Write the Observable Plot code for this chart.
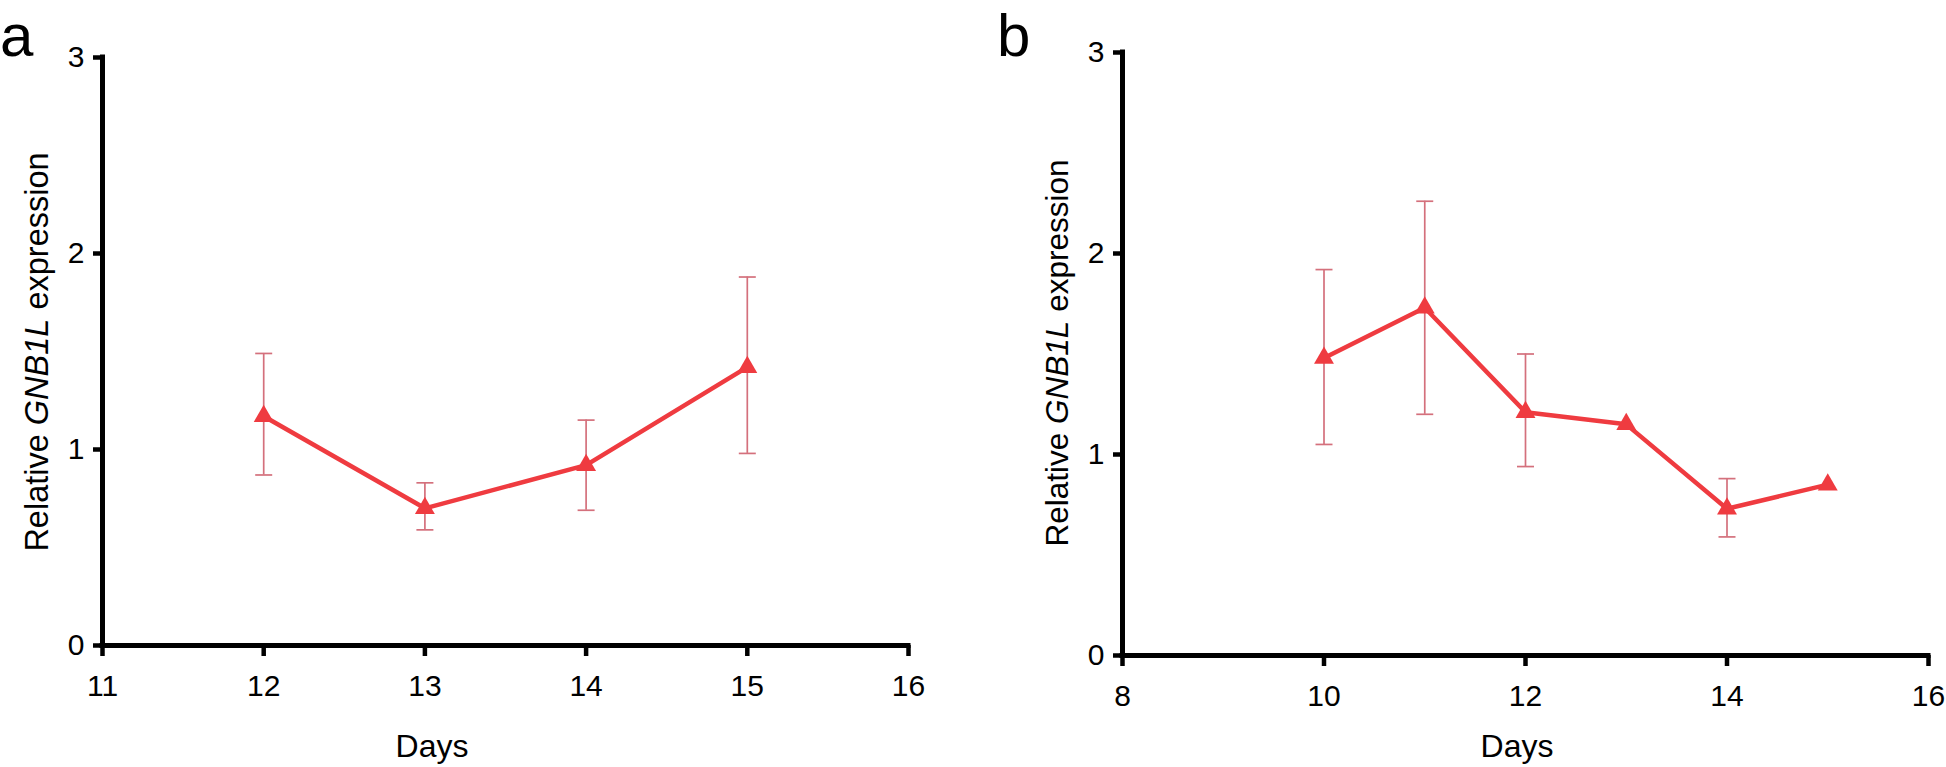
<!DOCTYPE html>
<html>
<head>
<meta charset="utf-8">
<script src="https://cdn.jsdelivr.net/npm/d3@7"></script>
<script src="https://cdn.jsdelivr.net/npm/@observablehq/plot@0.6"></script>
<style>
  html, body { margin: 0; padding: 0; background: #fff; }
  #wrap { position: relative; width: 1946px; height: 767px; overflow: hidden; font-family: "Liberation Sans", Arial, sans-serif; }
  #wrap svg { position: absolute; top: 0; max-width: none !important; }
</style>
</head>
<body>
<div id="wrap"></div>
<script>
// ---- Panel a data ----
const daysA  = [12, 13, 14, 15];
const meanA  = [1.17, 0.70, 0.92, 1.42];
const upperA = [1.49, 0.83, 1.15, 1.88];
const lowerA = [0.87, 0.59, 0.69, 0.98];
const xTicksA = [11, 12, 13, 14, 15, 16];

// ---- Panel b data ----
const daysB  = [10, 11, 12, 13, 14, 15];
const meanB  = [1.48, 1.73, 1.21, 1.15, 0.73, 0.85];
const upperB = [1.92, 2.26, 1.50, null, 0.88, null];
const lowerB = [1.05, 1.20, 0.94, null, 0.59, null];
const xTicksB = [8, 10, 12, 14, 16];

const yTicks = [0, 1, 2, 3];
const panelLetters = ["a", "b"];
const xTitle = "Days";
const yTitleParts = ["Relative ", "GNB1L", " expression"];

const lineColor = "#ef3b40";
const errColor = "#d4707c";
const font = "'Liberation Sans', Arial, sans-serif";

const capSymbol = {
  draw(context) {
    const w = 8.5;
    context.moveTo(-w, 0);
    context.lineTo(w, 0);
  }
};

function panel(cfg) {
  const rows = cfg.days.map((d, i) => ({day: d, mean: cfg.mean[i], hi: cfg.upper[i], lo: cfg.lower[i]}));
  const err = rows.filter(r => r.hi != null);
  const caps = err.flatMap(r => [{day: r.day, v: r.hi}, {day: r.day, v: r.lo}]);
  const [x0, x1] = cfg.xDomain;
  const svg = Plot.plot({
    width: cfg.width,
    height: 767,
    marginLeft: cfg.ml,
    marginRight: cfg.mr,
    marginTop: cfg.mt,
    marginBottom: cfg.mb,
    style: {background: "transparent", overflow: "visible", fontFamily: font, color: "#000", fontSize: "30px"},
    x: {domain: cfg.xDomain},
    y: {domain: [0, 3]},
    marks: [
      Plot.ruleX(err, {x: "day", y1: "lo", y2: "hi", stroke: errColor, strokeWidth: 1.7}),
      Plot.dot(caps, {x: "day", y: "v", symbol: capSymbol, fill: "none", stroke: errColor, strokeWidth: 1.7}),
      Plot.line(rows, {x: "day", y: "mean", stroke: lineColor, strokeWidth: 4.5}),
      Plot.dot(rows, {x: "day", y: "mean", symbol: "triangle", r: 7.4, fill: lineColor, stroke: "none"}),
      Plot.axisX({ticks: cfg.xTicks, tickFormat: d => String(d), tickSize: 11, tickPadding: 18, strokeWidth: 4.5, fontSize: 30, label: null, stroke: "#000", fill: "#000"}),
      Plot.axisY({ticks: yTicks, tickFormat: d => String(d), tickSize: 9, tickPadding: 9, strokeWidth: 4.5, fontSize: 30, label: null, stroke: "#000", fill: "#000"}),
      Plot.ruleY([0], {x1: x0, x2: x1, stroke: "#000", strokeWidth: 5, strokeLinecap: "square"}),
      Plot.ruleX([x0], {y1: 0, y2: 3, stroke: "#000", strokeWidth: 5, strokeLinecap: "square"})
    ]
  });
  svg.style.left = cfg.left + "px";
  const s = d3.select(svg);
  // panel letter
  s.append("text").attr("x", cfg.letterX).attr("y", 56).attr("text-anchor", "start")
    .attr("font-size", 60).attr("font-family", font).attr("fill", "#000").text(cfg.letter);
  // y title
  const yt = s.append("text")
    .attr("transform", `translate(${cfg.yTitleX},${cfg.yTitleY}) rotate(-90)`)
    .attr("text-anchor", "middle").attr("font-size", cfg.yTitleSize).attr("font-family", font).attr("fill", "#000");
  yt.append("tspan").text(yTitleParts[0]);
  yt.append("tspan").attr("font-style", "italic").text(yTitleParts[1]);
  yt.append("tspan").text(yTitleParts[2]);
  // x title
  s.append("text").attr("x", cfg.xTitleX).attr("y", 757)
    .attr("text-anchor", "middle").attr("font-size", 32).attr("font-family", font).attr("fill", "#000").text(xTitle);
  return svg;
}

const wrap = document.getElementById("wrap");
wrap.appendChild(panel({
  days: daysA, mean: meanA, upper: upperA, lower: lowerA, xTicks: xTicksA, xDomain: [11, 16],
  left: 0, width: 960, ml: 102, mr: 52, mt: 57, mb: 122,
  letter: panelLetters[0], letterX: 0, yTitleX: 48, yTitleY: 352, yTitleSize: 32.5, xTitleX: 432
}));
wrap.appendChild(panel({
  days: daysB, mean: meanB, upper: upperB, lower: lowerB, xTicks: xTicksB, xDomain: [8, 16],
  left: 980, width: 966, ml: 142, mr: 18, mt: 52, mb: 112,
  letter: panelLetters[1], letterX: 17, yTitleX: 88, yTitleY: 353, yTitleSize: 31.5, xTitleX: 537
}));
</script>
</body>
</html>
